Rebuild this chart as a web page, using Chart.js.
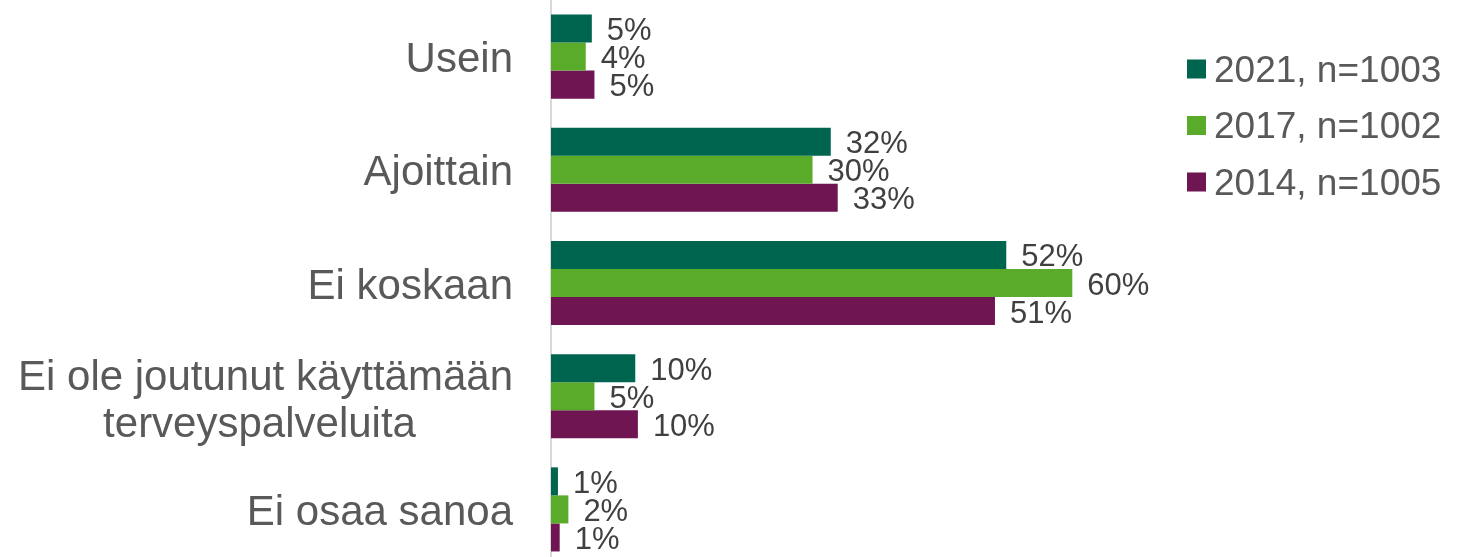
<!DOCTYPE html>
<html>
<head>
<meta charset="utf-8">
<script src="https://cdn.jsdelivr.net/npm/chart.js@4.4.1/dist/chart.umd.min.js"></script>
<style>
    html, body { margin: 0; padding: 0; background: #fff; overflow: hidden; }
    #wrap { width: 1458px; height: 557px; overflow: hidden; }
</style>
</head>
<body>
<div id="wrap"><canvas id="chart" width="1458" height="566"></canvas></div>
<script>
/* Horizontal grouped bar chart: health service usage 2014 / 2017 / 2021 */

const categories = [
    'Usein',
    'Ajoittain',
    'Ei koskaan',
    ['Ei ole joutunut käyttämään', 'terveyspalveluita'],
    'Ei osaa sanoa'
];

const seriesNames = ['2021, n=1003', '2017, n=1002', '2014, n=1005'];
const values2021 = [4.7, 32.2, 52.4, 9.7, 0.8];
const values2017 = [4.0, 30.1, 60.0, 5.0, 2.0];
const values2014 = [5.0, 33.0, 51.1, 10.0, 1.0];
const seriesColors = ['#00654F', '#5AAB2A', '#6E1552'];

const FONT = 'Arial, "Liberation Sans", sans-serif';

// --- Plugins ---

// Value labels to the right of each bar
const valueLabels = {
    id: 'valueLabels',
    afterDatasetsDraw(chart) {
        const ctx = chart.ctx;
        ctx.save();
        ctx.font = '31px ' + FONT;
        ctx.fillStyle = '#404040';
        ctx.textAlign = 'left';
        ctx.textBaseline = 'alphabetic';
        chart.data.datasets.forEach((ds, di) => {
            chart.getDatasetMeta(di).data.forEach((bar, i) => {
                const txt = Math.round(ds.data[i]) + '%';
                ctx.fillText(txt, bar.x + 15, bar.y + 11.5);
            });
        });
        ctx.restore();
    }
};

// Category labels: single lines right aligned, wrapped ones centred as a block
const categoryLabels = {
    id: 'categoryLabels',
    afterDraw(chart) {
        const ctx = chart.ctx;
        const yScale = chart.scales.y;
        const right = chart.chartArea.left - 38;
        const size = 42, lh = 47;
        ctx.save();
        ctx.font = size + 'px ' + FONT;
        ctx.fillStyle = '#595959';
        ctx.textBaseline = 'alphabetic';
        categories.forEach((lab, i) => {
            const lines = Array.isArray(lab) ? lab : [lab];
            const cy = yScale.getPixelForTick(i);
            const maxW = Math.max(...lines.map(l => ctx.measureText(l).width));
            const top = cy - (lines.length - 1) * lh / 2;
            lines.forEach((l, k) => {
                const y = top + k * lh + size * 0.37;
                if (lines.length === 1) {
                    ctx.textAlign = 'right';
                    ctx.fillText(l, right, y);
                } else if (k === 0) {
                    ctx.textAlign = 'right';
                    ctx.fillText(l, right, y + 2);
                } else {
                    ctx.textAlign = 'center';
                    ctx.fillText(l, right - maxW / 2 - 6, y + 2);
                }
            });
        });
        ctx.restore();
    }
};

// Legend at the right, small gap between swatch and text
const sideLegend = {
    id: 'sideLegend',
    afterDraw(chart) {
        const ctx = chart.ctx;
        const x = chart.chartArea.right + 20;
        ctx.save();
        ctx.font = '37px ' + FONT;
        ctx.textAlign = 'left';
        ctx.textBaseline = 'alphabetic';
        chart.data.datasets.forEach((ds, i) => {
            const cy = 69 + i * 56.5;
            ctx.fillStyle = ds.backgroundColor;
            ctx.fillRect(x, cy - 9.5, 19, 19);
            ctx.fillStyle = '#595959';
            ctx.fillText(ds.label, x + 27, cy + 12.5);
        });
        ctx.restore();
    }
};

// --- Chart ---

const ctx = document.getElementById('chart').getContext('2d');
new Chart(ctx, {
    type: 'bar',
    data: {
        labels: categories,
        datasets: [
            { label: seriesNames[0], data: values2021, backgroundColor: seriesColors[0] },
            { label: seriesNames[1], data: values2017, backgroundColor: seriesColors[1] },
            { label: seriesNames[2], data: values2014, backgroundColor: seriesColors[2] },
        ]
    },
    options: {
        responsive: false,
        animation: false,
        indexAxis: 'y',
        layout: { padding: { top: 0, bottom: 0, left: 0, right: 291 } },
        datasets: {
            bar: { categoryPercentage: 0.743, barPercentage: 1.0, borderWidth: 0 }
        },
        plugins: {
            tooltip: { enabled: false },
            legend: { display: false }
        },
        scales: {
            x: {
                display: false,
                min: 0,
                max: 70.9
            },
            y: {
                grid: { display: false, drawTicks: false },
                border: { display: true, color: '#D9D9D9', width: 2 },
                ticks: { display: false },
                afterFit: (scale) => { scale.width = 551; }
            }
        }
    },
    plugins: [valueLabels, categoryLabels, sideLegend]
});
</script>
</body>
</html>
